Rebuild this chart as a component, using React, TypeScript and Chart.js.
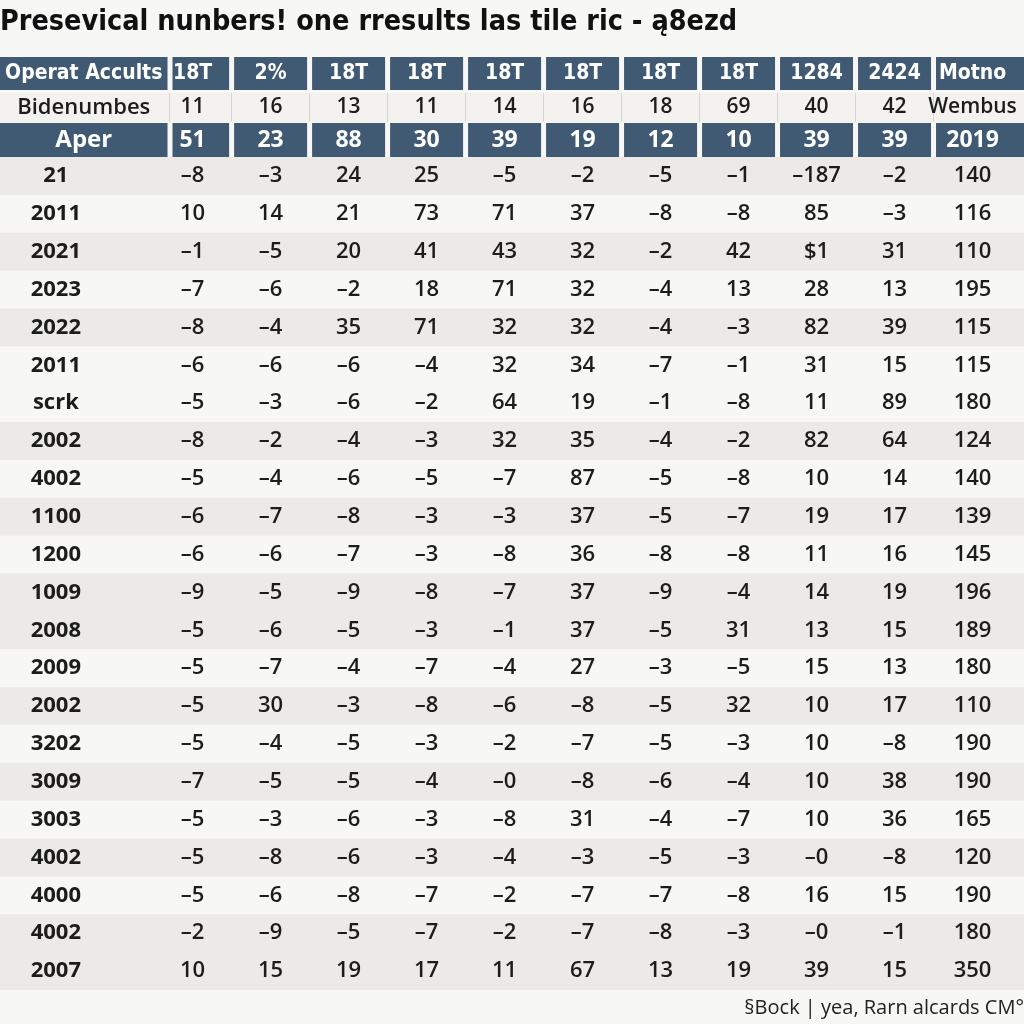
import { useEffect, useRef } from 'react';
import { Chart, registerables } from 'chart.js';

Chart.register(...registerables);

const TITLE = 'Presevical nunbers! one rresults las tile ric - ą8ezd';
const FOOTER = '§Bock | yea, Rarn alcards CM°';

// Header rows: first entry belongs to the label column
const headerTop = ['Operat Accults', '18T', '2%', '18T', '18T', '18T', '18T', '18T', '18T', '1284', '2424', 'Motno'];
const headerMid = ['Bidenumbes', '11', '16', '13', '11', '14', '16', '18', '69', '40', '42', 'Wembus'];
const headerBottom = ['Aper', '51', '23', '88', '30', '39', '19', '12', '10', '39', '39', '2019'];

const rowLabels = ['21', '2011', '2021', '2023', '2022', '2011', 'scrk', '2002', '4002', '1100', '1200', '1009', '2008', '2009', '2002', '3202', '3009', '3003', '4002', '4000', '4002', '2007'];
const rowShaded = [true, false, true, false, true, false, false, true, false, true, false, true, true, false, true, false, true, false, true, false, true, true];

const col1 = ['-8', '10', '-1', '-7', '-8', '-6', '-5', '-8', '-5', '-6', '-6', '-9', '-5', '-5', '-5', '-5', '-7', '-5', '-5', '-5', '-2', '10'];
const col2 = ['-3', '14', '-5', '-6', '-4', '-6', '-3', '-2', '-4', '-7', '-6', '-5', '-6', '-7', '30', '-4', '-5', '-3', '-8', '-6', '-9', '15'];
const col3 = ['24', '21', '20', '-2', '35', '-6', '-6', '-4', '-6', '-8', '-7', '-9', '-5', '-4', '-3', '-5', '-5', '-6', '-6', '-8', '-5', '19'];
const col4 = ['25', '73', '41', '18', '71', '-4', '-2', '-3', '-5', '-3', '-3', '-8', '-3', '-7', '-8', '-3', '-4', '-3', '-3', '-7', '-7', '17'];
const col5 = ['-5', '71', '43', '71', '32', '32', '64', '32', '-7', '-3', '-8', '-7', '-1', '-4', '-6', '-2', '-0', '-8', '-4', '-2', '-2', '11'];
const col6 = ['-2', '37', '32', '32', '32', '34', '19', '35', '87', '37', '36', '37', '37', '27', '-8', '-7', '-8', '31', '-3', '-7', '-7', '67'];
const col7 = ['-5', '-8', '-2', '-4', '-4', '-7', '-1', '-4', '-5', '-5', '-8', '-9', '-5', '-3', '-5', '-5', '-6', '-4', '-5', '-7', '-8', '13'];
const col8 = ['-1', '-8', '42', '13', '-3', '-1', '-8', '-2', '-8', '-7', '-8', '-4', '31', '-5', '32', '-3', '-4', '-7', '-3', '-8', '-3', '19'];
const col9 = ['-187', '85', '$1', '28', '82', '31', '11', '82', '10', '19', '11', '14', '13', '15', '10', '10', '10', '10', '-0', '16', '-0', '39'];
const col10 = ['-2', '-3', '31', '13', '39', '15', '89', '64', '14', '17', '16', '19', '15', '13', '17', '-8', '38', '36', '-8', '15', '-1', '15'];
const col11 = ['140', '116', '110', '195', '115', '115', '180', '124', '140', '139', '145', '196', '189', '180', '110', '190', '190', '165', '120', '190', '180', '350'];

const columns = [col1, col2, col3, col4, col5, col6, col7, col8, col9, col10, col11];

const NARROW = "'Liberation Sans Narrow', 'DejaVu Sans Condensed', 'Roboto', sans-serif";
const SANS = "'Open Sans', 'Noto Sans', sans-serif";
const PAGE_BG = '#f7f7f5';
const SHADE = '#ebeae6';
const HEAD_DARK = '#3f5a72';
const HEAD_LIGHT = '#f3f2ef';
const TEXT = '#1c1c1c';
const LABEL_COL_WIDTH = 170;

const fmt = (s: string) => s.replace('-', '–');

const tablePlugin = {
  id: 'tablePlugin',
  beforeDraw(chart: any) {
    const { ctx, chartArea, scales } = chart;
    const x = scales.x;
    const y = scales.y;
    ctx.save();
    ctx.fillStyle = PAGE_BG;
    ctx.fillRect(0, 0, chart.width, chart.height);
    const rowH = Math.abs(y.getPixelForValue(1) - y.getPixelForValue(0));
    rowLabels.forEach((_, i) => {
      if (rowShaded[i]) {
        const cy = y.getPixelForValue(i);
        ctx.fillStyle = SHADE;
        ctx.fillRect(0, cy - rowH / 2, chart.width, rowH);
      }
    });
    const top = chartArea.top;
    const n = columns.length;
    const cellLeft = (c: number) => (c === 1 ? chartArea.left : x.getPixelForValue(c - 0.5));
    const cellRight = (c: number) => (c === n ? chart.width + 10 : x.getPixelForValue(c + 0.5));
    const bands = [
      { y0: top - 100, y1: top - 67, dark: true },
      { y0: top - 64, y1: top - 35, dark: false },
      { y0: top - 34, y1: top, dark: true },
    ];
    const gap = 2.5;
    bands.forEach((b) => {
      if (!b.dark) {
        ctx.fillStyle = HEAD_LIGHT;
        ctx.fillRect(0, b.y0, chart.width, b.y1 - b.y0);
        ctx.strokeStyle = '#d3d5d7';
        ctx.lineWidth = 1;
        for (let c = 1; c <= n; c++) {
          const bx = Math.round(cellLeft(c) - 1) + 0.5;
          ctx.beginPath();
          ctx.moveTo(bx, b.y0);
          ctx.lineTo(bx, b.y1);
          ctx.stroke();
        }
        return;
      }
      ctx.fillStyle = HEAD_DARK;
      ctx.fillRect(0, b.y0, chartArea.left - gap, b.y1 - b.y0);
      for (let c = 1; c <= n; c++) {
        const left = cellLeft(c) + gap;
        const right = cellRight(c) - gap;
        ctx.fillRect(left, b.y0, right - left, b.y1 - b.y0);
      }
    });
    ctx.restore();
  },
  afterDatasetsDraw(chart: any) {
    const { ctx, chartArea, scales } = chart;
    const x = scales.x;
    const top = chartArea.top;
    ctx.save();
    ctx.textAlign = 'center';
    ctx.textBaseline = 'middle';
    const headRows = [
      { labels: headerTop, cy: top - 83.5, font: `bold 21px ${NARROW}`, color: '#ffffff', firstFont: `bold 21px ${NARROW}` },
      { labels: headerMid, cy: top - 49.5, font: `600 21px ${SANS}`, color: TEXT, firstFont: `600 22px ${SANS}` },
      { labels: headerBottom, cy: top - 17, font: `bold 23px ${SANS}`, color: '#ffffff', firstFont: `bold 24px ${SANS}` },
    ];
    headRows.forEach((h) => {
      ctx.fillStyle = h.color;
      h.labels.forEach((t, i) => {
        if (i === 0) {
          ctx.font = h.firstFont;
          ctx.fillText(t, (chartArea.left - 2.5) / 2, h.cy);
        } else {
          ctx.font = h.font;
          ctx.fillText(t, x.getPixelForValue(i), h.cy);
        }
      });
    });
    ctx.font = `600 22px ${SANS}`;
    ctx.fillStyle = TEXT;
    const meta = chart.getDatasetMeta(0);
    const data = chart.data.datasets[0].data as any[];
    meta.data.forEach((el: any, i: number) => {
      ctx.fillText(fmt(data[i].v), el.x, el.y);
    });
    ctx.restore();
  },
};

export default function App() {
  const ref = useRef<HTMLCanvasElement>(null);
  useEffect(() => {
    if (!ref.current) return;
    const points: { x: number; y: number; v: string }[] = [];
    columns.forEach((col, c) => col.forEach((v, r) => points.push({ x: c + 1, y: r, v })));
    const chart = new Chart(ref.current, {
      type: 'scatter',
      data: { datasets: [{ data: points, pointRadius: 0, pointHoverRadius: 0 }] },
      options: {
        animation: false,
        responsive: false,
        maintainAspectRatio: false,
        events: [],
        layout: { padding: 0 },
        plugins: {
          legend: { display: false },
          tooltip: { enabled: false },
          title: {
            display: true,
            text: TITLE,
            align: 'start',
            color: '#111111',
            font: { family: NARROW, size: 28.5, weight: 'bold', lineHeight: 1.2 },
            padding: { top: 5, bottom: 117.8 },
          },
          subtitle: {
            display: true,
            text: FOOTER,
            position: 'bottom',
            align: 'end',
            color: '#222222',
            font: { family: SANS, size: 20, weight: 'normal', lineHeight: 1.2 },
            padding: { top: 6, bottom: 4 },
          },
        },
        scales: {
          x: { type: 'linear', min: 0.71, max: 11.66, display: false },
          y: {
            type: 'linear',
            min: -0.5,
            max: rowLabels.length - 0.5,
            reverse: true,
            grid: { display: false, drawTicks: true, tickLength: 89 },
            border: { display: false },
            afterBuildTicks: (s: any) => {
              s.ticks = rowLabels.map((_, i) => ({ value: i }));
            },
            afterFit: (s: any) => {
              s.width = LABEL_COL_WIDTH;
            },
            ticks: {
              autoSkip: false,
              callback: (v: any) => rowLabels[v as number],
              crossAlign: 'center',
              padding: 0,
              color: TEXT,
              font: { family: SANS, size: 22, weight: 'bold' },
            },
          },
        },
      },
      plugins: [tablePlugin],
    } as any);
    return () => chart.destroy();
  }, []);
  return (
    <div style={{ position: 'absolute', left: 0, top: 0, width: 1024, height: 1024, background: PAGE_BG }}>
      <canvas ref={ref} width={1024} height={1024} style={{ display: 'block', width: 1024, height: 1024 }} />
    </div>
  );
}
